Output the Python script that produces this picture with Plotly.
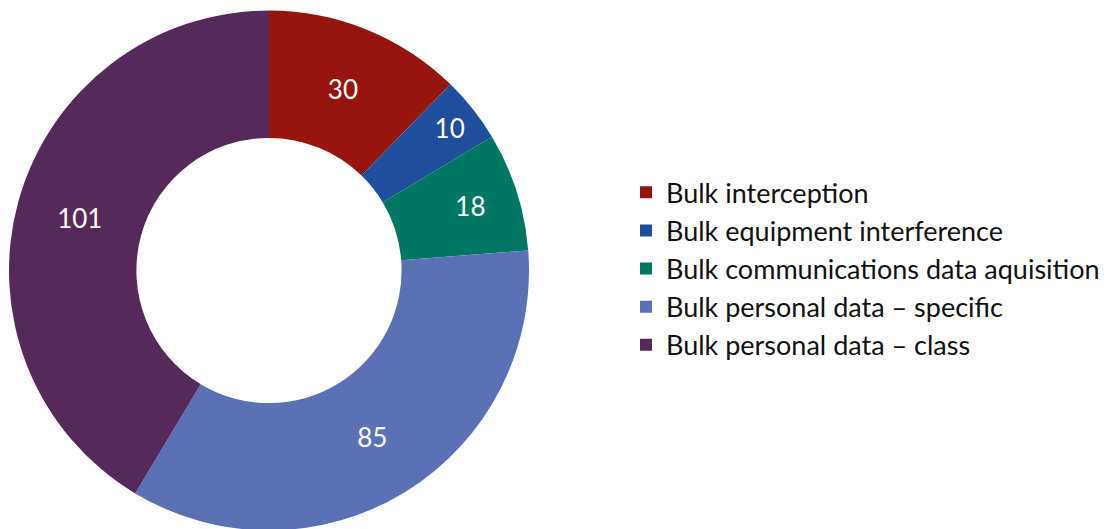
import plotly.graph_objects as go

categories = [
    "Bulk interception",
    "Bulk equipment interference",
    "Bulk communications data aquisition",
    "Bulk personal data – specific",
    "Bulk personal data – class",
]
values = [30, 10, 18, 85, 101]
colors = ["#98150f", "#1f4e9c", "#007762", "#5b71b6", "#552a5b"]

W, H = 1109, 529

fig = go.Figure(go.Pie(
    labels=categories,
    values=values,
    sort=False,
    direction="clockwise",
    rotation=0,
    hole=0.51,
    marker=dict(colors=colors, line=dict(width=0)),
    textinfo="value",
    textposition="inside",
    insidetextorientation="horizontal",
    insidetextfont=dict(color="white", size=26, family="Lato"),
    domain=dict(x=[1 / W, 521 / W], y=[4 / H, 1]),
))

fig.update_layout(
    width=W, height=H,
    margin=dict(l=0, r=0, t=0, b=0),
    paper_bgcolor="white",
    plot_bgcolor="white",
    font=dict(family="Lato", size=27, color="#111111"),
    legend=dict(
        x=618 / W, y=0.507, xanchor="left", yanchor="middle",
        font=dict(family="Lato", size=27, color="#111111"),
        bgcolor="rgba(0,0,0,0)",
    ),
    showlegend=True,
)

fig.write_html("out.html")
